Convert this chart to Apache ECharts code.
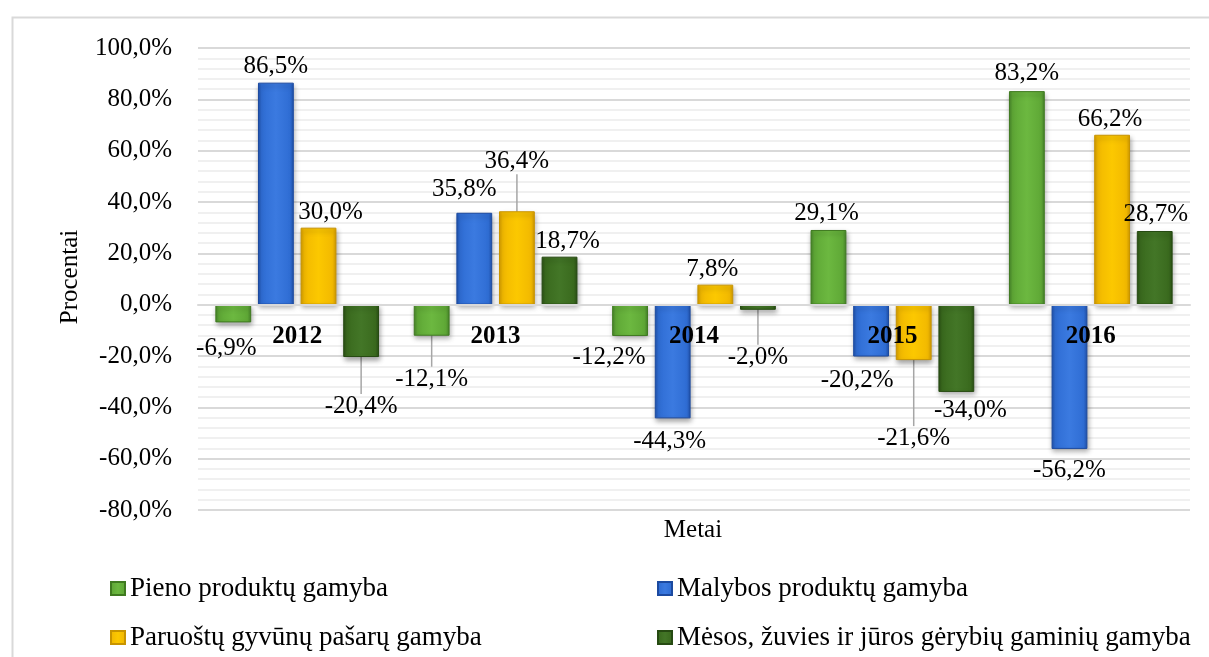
<!DOCTYPE html>
<html>
<head>
<meta charset="utf-8">
<script src="https://cdn.jsdelivr.net/npm/echarts@6/dist/echarts.min.js"></script>
<style>
html,body{margin:0;padding:0;background:#fff;}
#chart{width:1209px;height:657px;}
</style>
</head>
<body>
<div id="chart"></div>
<script>
// ---- data ----
const years = ['2012', '2013', '2014', '2015', '2016'];
const seriesNames = [
  'Pieno produktų gamyba',
  'Malybos produktų gamyba',
  'Paruoštų gyvūnų pašarų gamyba',
  'Mėsos, žuvies ir jūros gėrybių gaminių gamyba'
];
const pieno = [-6.9, -12.1, -12.2, 29.1, 83.2];
const malybos = [86.5, 35.8, -44.3, -20.2, -56.2];
const paruostu = [30.0, 36.4, 7.8, -21.6, 66.2];
const mesos = [-20.4, 18.7, -2.0, -34.0, 28.7];
const yMin = -80, yMax = 100, yStep = 20;
const axisTitleY = 'Procentai';
const axisTitleX = 'Metai';

// ---- styling (not data) ----
const FONT = '"Liberation Serif", "Times New Roman", serif';
const W = 1209, H = 657;
const GRID = { left: 198, right: 19, top: 48, bottom: 147 };
const palettes = [
  { edge: '#47852a', mid: '#5fa836', light: '#6cb840', border: '#3f7a20' },
  { edge: '#2152ad', mid: '#2f6dd4', light: '#3b7ae0', border: '#1c4aa0' },
  { edge: '#d49c00', mid: '#f2b900', light: '#fcc800', border: '#c89400' },
  { edge: '#2a5014', mid: '#3a6a1e', light: '#437627', border: '#264a12' }
];
const labelShift = [
  [[-7, 9], [0, 26], [-21, 4], [-2, 1], [0, 0]],
  [[0, 1], [-10, -6], [-3, 6], [-14, 6], [0, 4]],
  [[12, 2], [0, -32], [-3, 2], [0, 61], [-2, 2]],
  [[0, 32], [8, 2], [0, 30], [14, 1], [1, 1]]
];
const leader = [
  [false, true, false, false, false],
  [false, false, false, false, false],
  [false, true, false, true, false],
  [true, false, true, false, false]
];
const legendPos = [
  { left: 110, top: 575 },
  { left: 657, top: 575 },
  { left: 110, top: 624 },
  { left: 657, top: 624 }
];

function fmt(v) { return v.toFixed(1).replace('.', ',') + '%'; }

function grad(p) {
  return new echarts.graphic.LinearGradient(0, 0, 1, 0, [
    { offset: 0, color: p.edge },
    { offset: 0.1, color: p.mid },
    { offset: 0.5, color: p.light },
    { offset: 0.9, color: p.mid },
    { offset: 1, color: p.edge }
  ]);
}

const values = [pieno, malybos, paruostu, mesos];

const series = values.map(function (arr, si) {
  return {
    name: seriesNames[si],
    type: 'bar',
    barGap: '19%',
    barCategoryGap: '17.5%',
    itemStyle: {
      color: grad(palettes[si]),
      borderColor: palettes[si].border,
      borderWidth: 1,
      shadowColor: 'rgba(0,0,0,0.35)',
      shadowBlur: 5,
      shadowOffsetX: 1,
      shadowOffsetY: 3
    },
    label: {
      show: true,
      fontFamily: FONT,
      fontSize: 25,
      color: '#000',
      distance: 5,
      formatter: function (p) { return fmt(p.value); }
    },
    labelLine: { show: false, lineStyle: { color: '#a6a6a6', width: 1.5 } },
    labelLayout: function (p) {
      const s = labelShift[p.seriesIndex][p.dataIndex];
      return { dx: s[0], dy: s[1] };
    },
    data: arr.map(function (v, di) {
      return {
        value: v,
        label: { position: v >= 0 ? 'top' : 'bottom' },
        labelLine: { show: leader[si][di], lineStyle: { color: '#a6a6a6', width: 1.5 } }
      };
    })
  };
});

// move the category axis up to the value 0 of the value axis
const plotH = H - GRID.top - GRID.bottom;
const zeroOffset = -plotH * (0 - yMin) / (yMax - yMin);

const chart = echarts.init(document.getElementById('chart'));
chart.setOption({
  animation: false,
  backgroundColor: '#fff',
  grid: { left: GRID.left, right: GRID.right, top: GRID.top, bottom: GRID.bottom, containLabel: false },
  xAxis: {
    type: 'category',
    data: years,
    position: 'bottom',
    offset: zeroOffset,
    z: 10,
    axisLine: { show: true, onZero: false, lineStyle: { color: '#d9d9d9', width: 2 } },
    axisTick: { show: false },
    axisLabel: {
      fontFamily: FONT, fontSize: 25, fontWeight: 'bold', color: '#000', margin: 19
    },
    splitLine: { show: false }
  },
  yAxis: {
    type: 'value',
    min: yMin, max: yMax, interval: yStep,
    axisLine: { show: false },
    axisTick: { show: false },
    axisLabel: {
      fontFamily: FONT, fontSize: 25, color: '#000', margin: 26,
      formatter: function (v) { return fmt(v); }
    },
    splitLine: { show: true, lineStyle: { color: '#d9d9d9', width: 2 } },
    minorTick: { show: false, splitNumber: 5 },
    minorSplitLine: { show: true, lineStyle: { color: '#ececec', width: 1.5 } }
  },
  legend: seriesNames.map(function (n, i) {
    return {
      data: [n],
      left: legendPos[i].left, top: legendPos[i].top,
      padding: 0,
      itemWidth: 14, itemHeight: 13, icon: 'rect',
      textStyle: { fontFamily: FONT, fontSize: 27, color: '#000' }
    };
  }),
  graphic: [
    {
      type: 'rect', left: 10, top: 15, silent: true,
      shape: { width: 1230, height: 700 },
      style: { fill: 'none', stroke: '#d9d9d9', lineWidth: 2 }
    },
    {
      type: 'text', x: 693, y: 530,
      style: { text: axisTitleX, font: '25px ' + FONT, fill: '#000', align: 'center', verticalAlign: 'middle' }
    },
    {
      type: 'text', x: 70, y: 277, rotation: Math.PI / 2,
      style: { text: axisTitleY, font: '25px ' + FONT, fill: '#000', align: 'center', verticalAlign: 'middle' }
    }
  ],
  series: series
});
</script>
</body>
</html>
